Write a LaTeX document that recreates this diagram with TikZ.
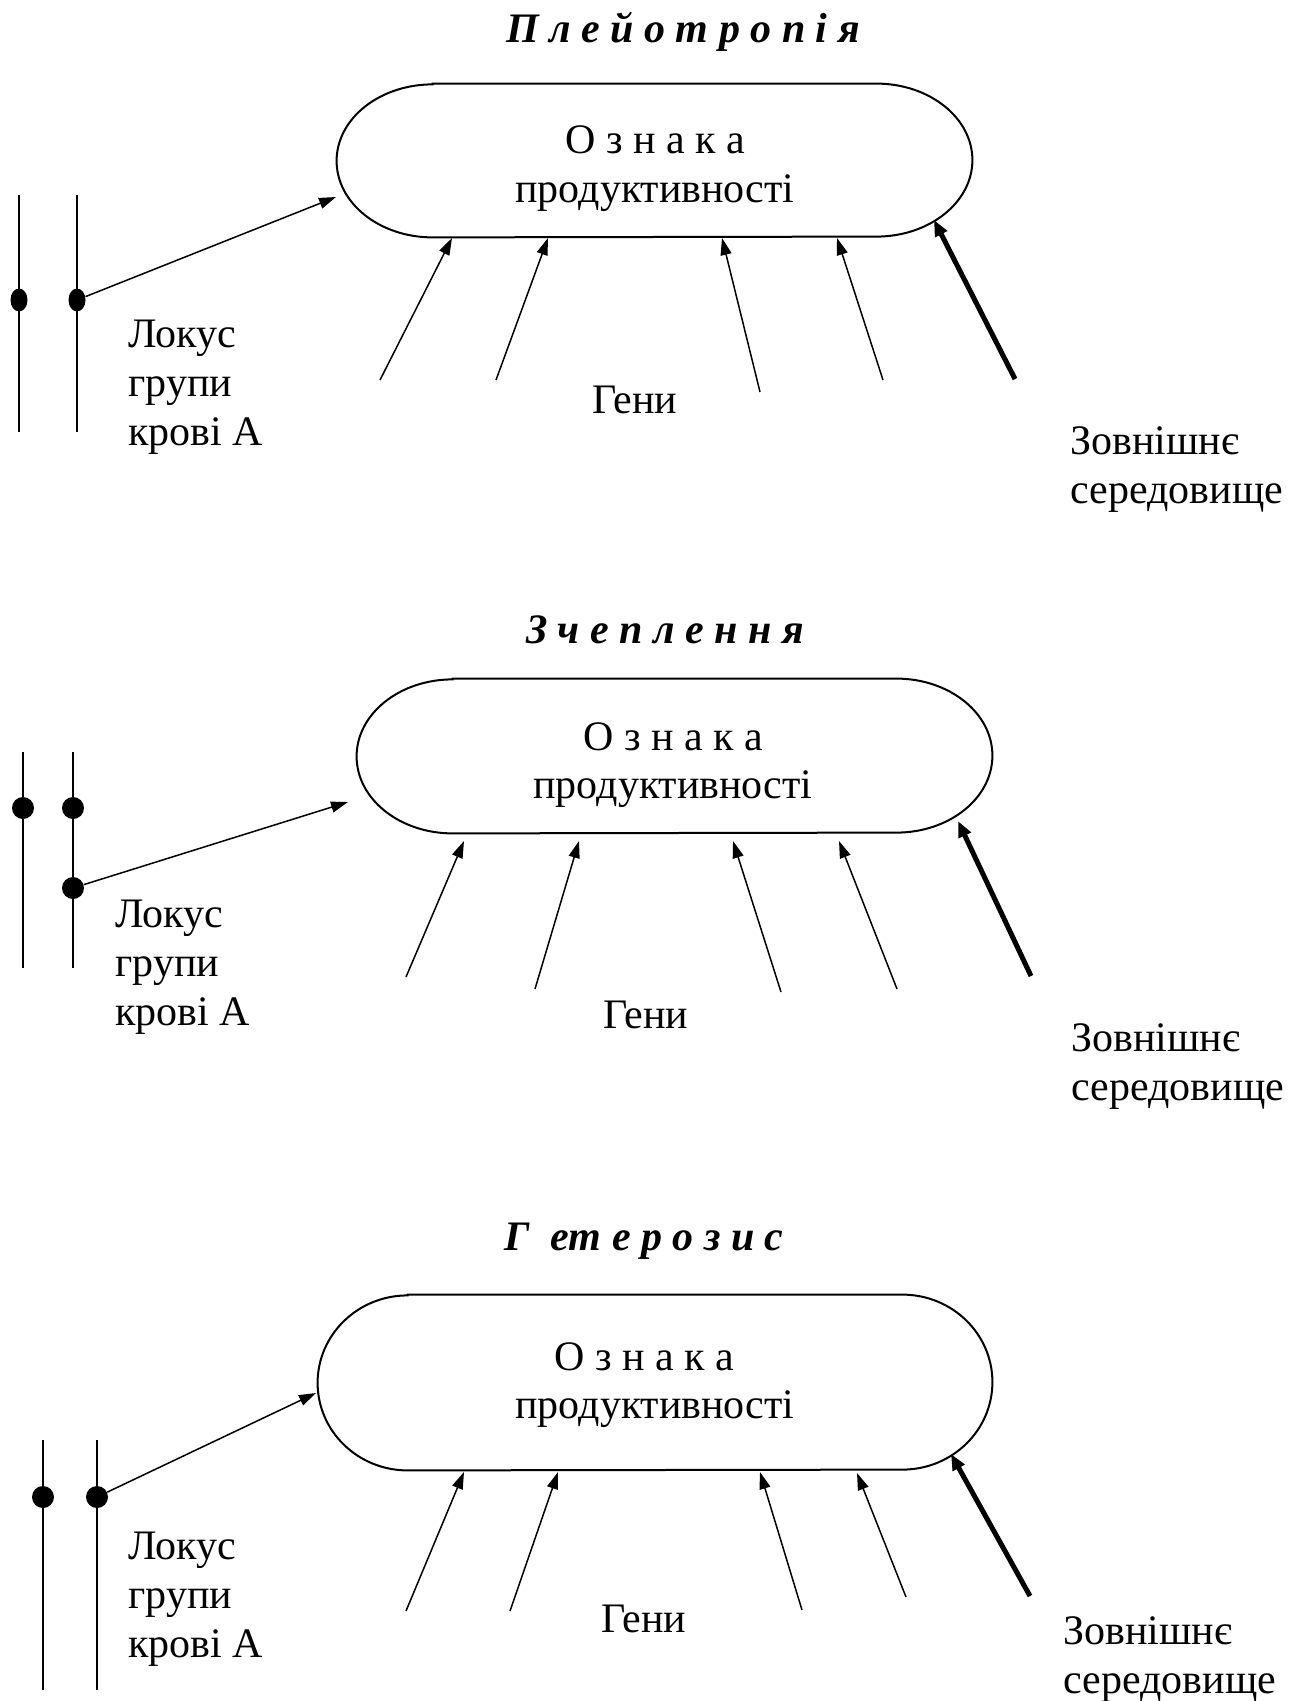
\documentclass[tikz,border=0pt]{standalone}
\usepackage{fontspec}
\setmainfont{Liberation Serif}
\usetikzlibrary{arrows.meta,calc,shapes.geometric}
\newcommand\stadoutline[3]{%
  \draw[outline] ($(#1.north west)+(#2,0)$) -- ($(#1.north east)+(-#2,0)$)
    arc[start angle=90,end angle=-90,x radius=#2,y radius=#3]
    -- ($(#1.south west)+(#2,0)$)
    arc[start angle=270,end angle=90,x radius=#2,y radius=#3] -- cycle;}
\begin{document}
\begin{tikzpicture}[x=0.5pt,y=0.5pt,
  txt/.style={inner sep=0pt, font=\fontsize{21}{24.5}\selectfont},
  ttl/.style={inner sep=0pt, font=\fontsize{21}{24}\selectfont\bfseries\itshape, anchor=base},
  lbl/.style={txt, align=left, anchor=base west},
  holder/.style={inner sep=0pt, draw=none},
  outline/.style={line width=1pt},
  chrom/.style={line width=1.4pt},
  locdot/.style={ellipse, fill=black, inner sep=0pt, minimum width=11pt, minimum height=11pt},
  talldot/.style={locdot, minimum width=8.5pt, minimum height=11.5pt},
  arr/.style={line width=0.75pt, -{Triangle[length=8.5pt,width=5.5pt]}},
  tharr/.style={line width=2.5pt, -{Triangle[length=8pt,width=6.5pt]}},
]
\useasboundingbox (0,0) rectangle (1306,-1701);

% ---------------- Panel 1 ----------------
\node[ttl] (h1) at (683,-43) {П л е й о т р о п і я};
\node[holder, minimum width=317.5pt, minimum height=76.5pt] (s1) at (654.5,-160.5) {};
\stadoutline{s1}{96}{76.5}
\node[txt, anchor=base] (o1) at (655,-154) {О з н а к а};
\node[txt, anchor=base] (p1) at (655,-203) {продуктивності};
\coordinate (a1t) at (19,-195); \coordinate (a1b) at (19,-432);
\coordinate (b1t) at (77,-195); \coordinate (b1b) at (77,-432);
\draw[chrom] (a1t) -- (a1b);
\draw[chrom] (b1t) -- (b1b);
\node[talldot] (da1) at (19,-300) {};
\node[talldot] (db1) at (77,-300) {};
\coordinate (l1) at (336,-197);
\draw[arr] (db1) -- (l1);
\node[lbl] (k1) at (128,-445) {Локус\\групи\\крові А};
\coordinate (g1s) at (380,-380); \coordinate (g1e) at (452,-238);
\coordinate (g2s) at (496,-380); \coordinate (g2e) at (548,-238);
\coordinate (g3s) at (760,-392); \coordinate (g3e) at (722,-238);
\coordinate (g4s) at (883,-380); \coordinate (g4e) at (837,-238);
\coordinate (e1s) at (1015,-379); \coordinate (e1e) at (934,-220);
\draw[arr] (g1s) -- (g1e);
\draw[arr] (g2s) -- (g2e);
\draw[arr] (g3s) -- (g3e);
\draw[arr] (g4s) -- (g4e);
\draw[tharr] (e1s) -- (e1e);
\node[txt, anchor=base] (gn1) at (635,-413) {Гени};
\node[lbl] (z1) at (1070,-503) {Зовнішнє\\середовище};

% ---------------- Panel 2 ----------------
\node[ttl] (h2) at (665,-643) {З ч е п л е н н я};
\node[holder, minimum width=317.5pt, minimum height=77pt] (s2) at (674.5,-756) {};
\stadoutline{s2}{96}{77}
\node[txt, anchor=base] (o2) at (673,-750) {О з н а к а};
\node[txt, anchor=base] (p2) at (673,-798) {продуктивності};
\coordinate (a2t) at (23,-752); \coordinate (a2b) at (23,-968);
\coordinate (b2t) at (73,-752); \coordinate (b2b) at (73,-968);
\draw[chrom] (a2t) -- (a2b);
\draw[chrom] (b2t) -- (b2b);
\node[locdot] (da2) at (23,-808) {};
\node[locdot] (db2) at (73,-808) {};
\node[locdot] (dc2) at (73,-888) {};
\coordinate (l2) at (348,-802);
\draw[arr] (dc2) -- (l2);
\node[lbl] (k2) at (115,-1025) {Локус\\групи\\крові А};
\coordinate (h2s) at (406,-977); \coordinate (h2e) at (464,-841);
\coordinate (i2s) at (535,-989); \coordinate (i2e) at (579,-841);
\coordinate (j2s) at (781,-992); \coordinate (j2e) at (733,-841);
\coordinate (m2s) at (897,-989); \coordinate (m2e) at (839,-841);
\coordinate (e2s) at (1031,-976); \coordinate (e2e) at (958,-821);
\draw[arr] (h2s) -- (h2e);
\draw[arr] (i2s) -- (i2e);
\draw[arr] (j2s) -- (j2e);
\draw[arr] (m2s) -- (m2e);
\draw[tharr] (e2s) -- (e2e);
\node[txt, anchor=base] (gn2) at (646,-1028) {Гени};
\node[lbl] (z2) at (1071,-1100) {Зовнішнє\\середовище};

% ---------------- Panel 3 ----------------
\node[ttl] (h3) at (644,-1250) {Г\ \ ет е р о з и с};
\node[holder, minimum width=337pt, minimum height=87.5pt] (s3) at (655,-1382.5) {};
\stadoutline{s3}{90}{87.5}
\node[txt, anchor=base] (o3) at (644,-1370) {О з н а к а};
\node[txt, anchor=base] (p3) at (655,-1418) {продуктивності};
\coordinate (a3t) at (43,-1440); \coordinate (a3b) at (43,-1690);
\coordinate (b3t) at (97,-1440); \coordinate (b3b) at (97,-1690);
\draw[chrom] (a3t) -- (a3b);
\draw[chrom] (b3t) -- (b3b);
\node[locdot] (da3) at (43,-1497) {};
\node[locdot] (db3) at (97,-1497) {};
\coordinate (l3) at (316,-1393);
\draw[arr] (db3) -- (l3);
\node[lbl] (k3) at (128,-1657) {Локус\\групи\\крові А};
\coordinate (h3s) at (406,-1611); \coordinate (h3e) at (464,-1472);
\coordinate (i3s) at (510,-1611); \coordinate (i3e) at (558,-1472);
\coordinate (j3s) at (802,-1610); \coordinate (j3e) at (760,-1472);
\coordinate (m3s) at (906,-1597); \coordinate (m3e) at (857,-1473);
\coordinate (e3s) at (1030,-1596); \coordinate (e3e) at (951,-1454);
\draw[arr] (h3s) -- (h3e);
\draw[arr] (i3s) -- (i3e);
\draw[arr] (j3s) -- (j3e);
\draw[arr] (m3s) -- (m3e);
\draw[tharr] (e3s) -- (e3e);
\node[txt, anchor=base] (gn3) at (644,-1632) {Гени};
\node[lbl] (z3) at (1063,-1693) {Зовнішнє\\середовище};
\end{tikzpicture}
\end{document}
